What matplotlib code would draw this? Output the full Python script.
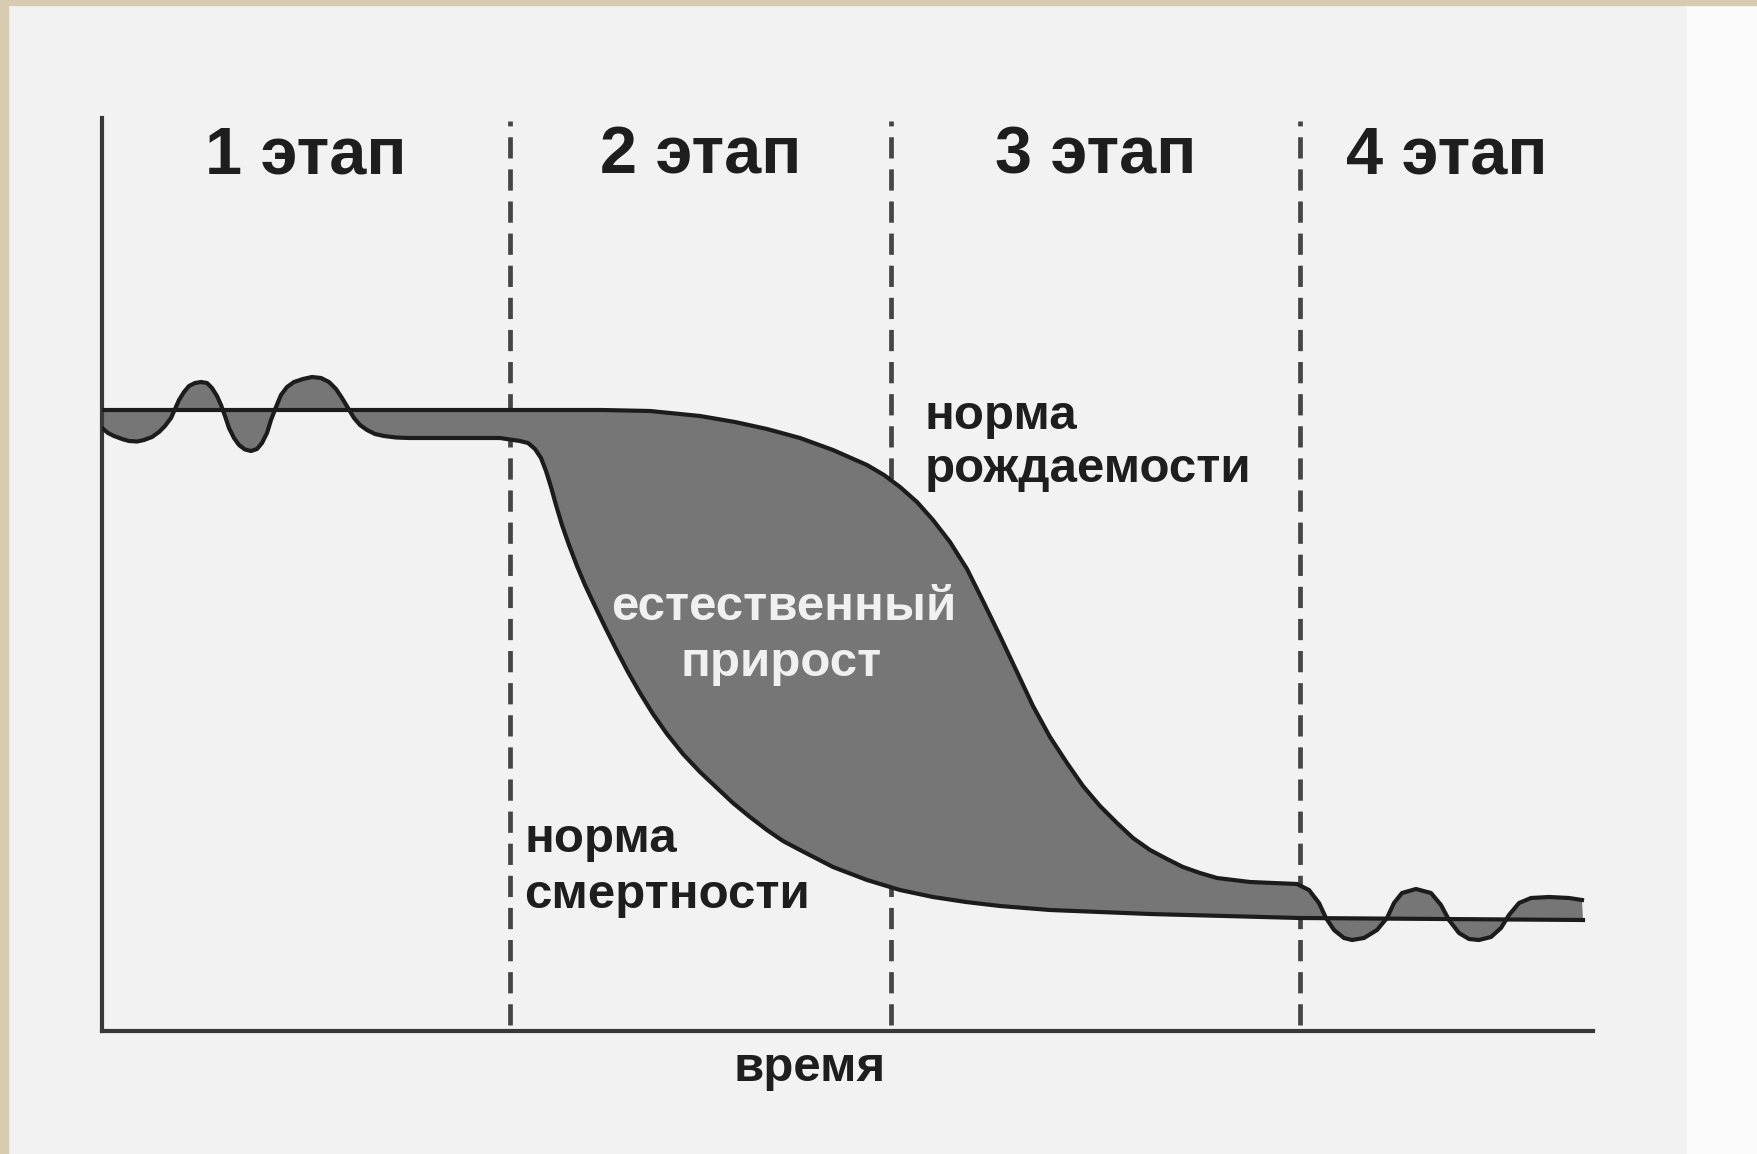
import matplotlib.pyplot as plt
from matplotlib.patches import Rectangle

# этапы демографического перехода
stages = ["1 этап", "2 этап", "3 этап", "4 этап"]
stage_bounds = [0, 40.8, 78.9, 119.8, 149.1]

# норма рождаемости
birth_x = [0, 20, 40, 50, 54.8, 59.8, 63.3, 66.5, 69.8, 73.1,
           76.5, 78.2, 79.8, 81.5, 83.1, 84.8, 86.5, 88.1, 89.8, 91.5,
           93.1, 94.8, 96.5, 98.1, 99.8, 101.5, 103.1, 104.8, 106.5, 108.1,
           109.8, 111.5, 114.8, 119.5,
           120.7, 121.7, 122.4, 123.2, 124.2, 125.0, 126.2, 127.5, 128.5, 129.2,
           130.0, 131.4, 132.9, 133.9, 134.7, 135.7, 136.7, 137.7, 138.9, 139.9,
           140.7, 141.7, 142.9, 144.7, 146.7, 148.0]
birth_y = [62.1, 62.1, 62.1, 62.1, 62.0, 61.5, 60.9, 60.2, 59.3, 58.1,
           56.6, 55.6, 54.4, 52.9, 51.1, 48.9, 46.2, 43.0, 39.5, 35.9,
           32.5, 29.4, 26.8, 24.5, 22.5, 20.8, 19.3, 18.1, 17.2, 16.4,
           15.8, 15.3, 14.9, 14.7,
           14.1, 12.8, 11.3, 10.1, 9.3, 9.1, 9.3, 10.1, 11.3, 12.8,
           13.8, 14.2, 13.8, 12.6, 11.1, 9.8, 9.2, 9.1, 9.4, 10.3,
           11.6, 12.8, 13.3, 13.4, 13.3, 13.1]

# норма смертности
death_x = [0, 0.6, 1.2, 2.0, 2.7, 3.5, 4.2, 5.0, 5.7, 6.3,
           6.9, 7.3, 7.7, 8.2, 8.7, 9.3, 9.9, 10.5, 11.0, 11.5,
           11.9, 12.3, 12.7, 13.2, 13.7, 14.3, 14.9, 15.5, 16.0, 16.5,
           16.9, 17.4, 17.9, 18.5, 19.2, 20.1, 21.0, 21.9, 22.7, 23.4,
           24.0, 24.6, 25.2, 25.8, 26.5, 27.3, 28.2, 29.4, 30.7, 33.0,
           35.7, 39.8,
           41.8, 42.6, 43.3, 43.9, 44.4, 44.9, 45.4, 46.0, 46.7, 47.5,
           48.3, 49.1, 50.3, 51.5, 52.6, 53.8, 55.1, 56.5, 58.1, 59.8,
           61.5, 63.1, 64.8, 66.5, 68.1, 69.8, 73.1, 76.5, 79.8, 83.1,
           86.4, 89.8, 94.8, 104.8, 119.8, 148.1]
death_y = [60.3, 59.8, 59.5, 59.2, 59.0, 58.95, 59.1, 59.4, 59.9, 60.5,
           61.3, 62.2, 63.1, 63.9, 64.5, 64.8, 64.9, 64.8, 64.3, 63.5,
           62.6, 61.5, 60.3, 59.3, 58.6, 58.15, 58.0, 58.2, 58.8, 59.8,
           61.1, 62.4, 63.6, 64.4, 64.9, 65.2, 65.4, 65.3, 64.9, 64.2,
           63.3, 62.3, 61.3, 60.6, 60.1, 59.7, 59.5, 59.35, 59.3, 59.3,
           59.3, 59.3,
           59.0, 58.8, 58.2, 57.3, 56.0, 54.4, 52.6, 50.6, 48.6, 46.5,
           44.6, 42.9, 40.4, 38.0, 35.9, 33.8, 31.7, 29.7, 27.7, 25.9,
           24.3, 22.8, 21.4, 20.1, 19.0, 18.1, 16.4, 15.1, 14.1, 13.4,
           12.9, 12.5, 12.1, 11.7, 11.3, 11.1]

plt.rcParams['font.family'] = ['Liberation Sans', 'DejaVu Sans']

fig = plt.figure(figsize=(17.57, 11.54), dpi=100, facecolor='#f2f2f2')

# рамка фона
fig.patches.append(Rectangle((0.960, 0), 0.04, 1, transform=fig.transFigure,
                             color='#fafafa', zorder=0))
fig.patches.append(Rectangle((0, 0), 0.0046, 1, transform=fig.transFigure,
                             color='#d8cbb0', zorder=1))
fig.patches.append(Rectangle((0, 0.9957), 1, 0.0043, transform=fig.transFigure,
                             color='#d8cbb0', zorder=1))

ax = fig.add_axes([102 / 1757, 123 / 1154, 1491 / 1757, 913 / 1154])
ax.set_facecolor('none')
ax.set_xlim(0, 149.1)
ax.set_ylim(0, 91.3)

for s in ['top', 'right']:
    ax.spines[s].set_visible(False)
for s in ['left', 'bottom']:
    ax.spines[s].set_linewidth(3)
    ax.spines[s].set_color('#383838')
ax.set_xticks([])
ax.set_yticks([])

# границы этапов
for xb in stage_bounds[1:-1]:
    ax.plot([xb, xb], [0.6, 91.0], color='#454545', lw=3.4,
            linestyle=(0, (4.5, 2.3)), zorder=1)

# естественный прирост — заливка между кривыми
ax.fill(birth_x + death_x[::-1], birth_y + death_y[::-1], color='#767676',
        lw=0, zorder=2)
ax.plot(birth_x, birth_y, color='#1c1c1c', lw=3, solid_joinstyle='round', zorder=3)
ax.plot(death_x, death_y, color='#1c1c1c', lw=3, solid_joinstyle='round', zorder=3)

for i, name in enumerate(stages):
    xc = (stage_bounds[i] + stage_bounds[i + 1]) / 2
    ax.text(xc, 85.8, name, ha='center', va='baseline', fontsize=48,
            fontweight='bold', color='#1e1e1e')

txt = dict(fontsize=35.5, fontweight='bold', color='#1e1e1e', va='baseline')
ax.text(82.3, 60.2, "норма", ha='left', **txt)
ax.text(82.3, 54.9, "рождаемости", ha='left', **txt)
ax.text(42.2, 17.9, "норма", ha='left', **txt)
ax.text(42.2, 12.3, "смертности", ha='left', **txt)

ax.text(68.2, 41.1, "естественный", ha='center', va='baseline', fontsize=35.5,
        fontweight='bold', color='#f0f0f0', zorder=4)
ax.text(67.9, 35.5, "прирост", ha='center', va='baseline', fontsize=35.5,
        fontweight='bold', color='#f0f0f0', zorder=4)

ax.text(70.8, -5.0, "время", ha='center', va='baseline', fontsize=35.5,
        fontweight='bold', color='#1e1e1e', clip_on=False)

fig.savefig('out.png', dpi=100, facecolor=fig.get_facecolor())
